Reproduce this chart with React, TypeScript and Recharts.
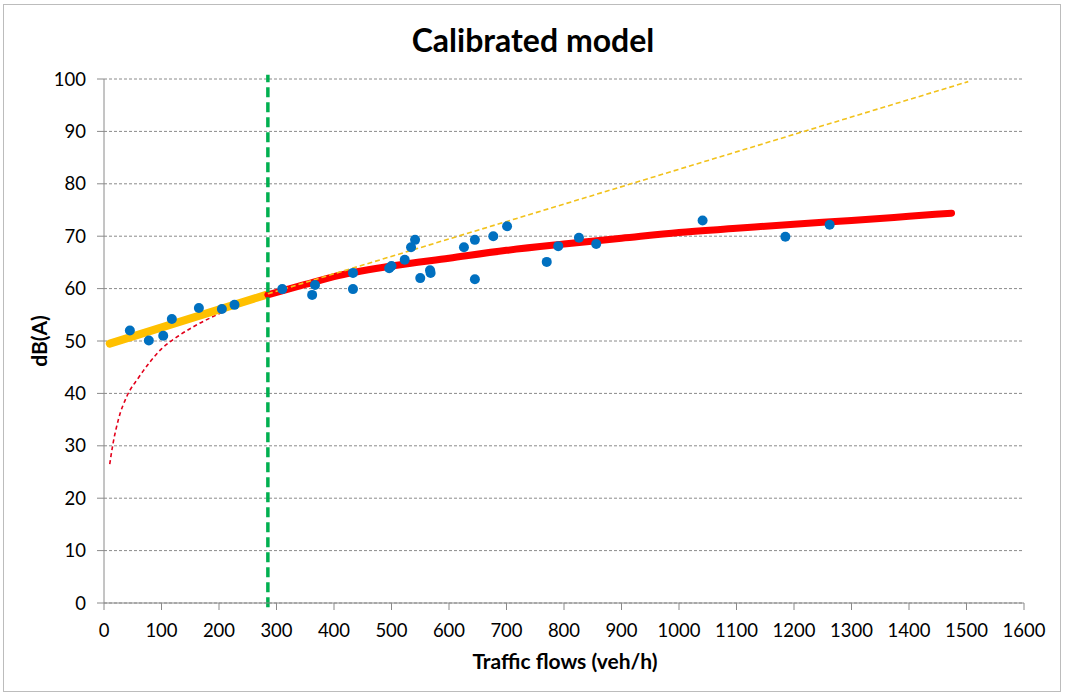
import React from 'react';
import { ComposedChart, Line, Scatter, XAxis, YAxis, CartesianGrid, ReferenceLine } from 'recharts';

// measured traffic flow (veh/h) vs noise level dB(A)
const obsFlow = [45, 78, 103, 118, 165, 205, 227, 310, 362, 367, 433, 433, 496, 500, 523, 534, 541, 550, 567, 568, 626, 645, 645, 677, 701, 770, 790, 826, 856, 1041, 1185, 1262];
const obsLevel = [52.0, 50.1, 51.0, 54.2, 56.3, 56.1, 56.9, 59.9, 58.8, 60.7, 63.0, 59.9, 63.9, 64.3, 65.5, 67.9, 69.3, 62.0, 63.5, 63.0, 67.9, 69.3, 61.8, 70.0, 71.9, 65.1, 68.1, 69.7, 68.5, 73.0, 69.9, 72.2];

// linear model, low-flow branch (thick) and its extension (thin dashed)
const linFlow = [10, 282];
const linLevel = [49.5, 58.8];
const linExtFlow = [285, 1503];
const linExtLevel = [59.0, 99.5];

// logarithmic model, calibrated part (thick) and its extension below the threshold (dashed)
const logFlow = [285, 350, 400, 500, 600, 700, 800, 900, 1000, 1100, 1200, 1300, 1400, 1474];
const logLevel = [58.8, 60.8, 62.3, 64.3, 65.8, 67.3, 68.5, 69.6, 70.7, 71.5, 72.3, 73.0, 73.8, 74.4];
const logLowFlow = [10, 15, 25, 40, 60, 80, 100, 130, 160, 200, 240, 285];
const logLowLevel = [26.5, 30.0, 35.0, 39.5, 43.0, 46.0, 48.5, 51.0, 53.0, 55.2, 57.2, 58.8];

const threshold = 285;
const xTicks = [0, 100, 200, 300, 400, 500, 600, 700, 800, 900, 1000, 1100, 1200, 1300, 1400, 1500, 1600];
const yTicks = [0, 10, 20, 30, 40, 50, 60, 70, 80, 90, 100];

const pts = (xs: number[], ys: number[]) => xs.map((x, i) => ({ x, y: ys[i] }));

const FONT = 'Lato, "Open Sans", sans-serif';
const tick = { fontSize: 18.5, fill: '#000', fontFamily: FONT };

export default function App() {
  return (
    <div style={{ position: 'absolute', left: 0, top: 0, width: 1066, height: 696, background: '#fff', fontFamily: FONT }}>
      <div style={{ position: 'absolute', left: 3, top: 4, width: 1056, height: 686, border: '1.5px solid #bcbcbc' }} />
      <div style={{ position: 'absolute', left: 0, width: 1066, top: 20, textAlign: 'center', fontSize: 32, fontWeight: 700 }}>
        Calibrated model
      </div>
      <div style={{ position: 'absolute', left: 0, width: 1130, top: 648, textAlign: 'center', fontSize: 21, fontWeight: 700 }}>
        Traffic flows (veh/h)
      </div>
      <div style={{ position: 'absolute', left: 38, top: 341, fontSize: 21, fontWeight: 700, transform: 'translate(-50%, -50%) rotate(-90deg)', whiteSpace: 'nowrap' }}>
        dB(A)
      </div>
      <div style={{ position: 'absolute', left: 0, top: 0 }}>
        <ComposedChart width={1066} height={696} margin={{ top: 79, right: 42, bottom: 63, left: 44 }}>
          <CartesianGrid vertical={false} stroke="#8a8a8a" strokeDasharray="3 2" />
          <XAxis
            type="number"
            dataKey="x"
            domain={[0, 1600]}
            ticks={xTicks}
            interval={0}
            height={30}
            tick={tick}
            tickSize={7}
            tickMargin={14}
            stroke="#8a8a8a"
            allowDuplicatedCategory={false}
          />
          <YAxis
            type="number"
            dataKey="y"
            domain={[0, 100]}
            ticks={yTicks}
            interval={0}
            width={60}
            tick={tick}
            tickSize={7}
            tickMargin={11}
            stroke="#8a8a8a"
          />
          <Line data={pts(logLowFlow, logLowLevel)} dataKey="y" stroke="#E3001B" strokeWidth={1.6} strokeDasharray="4 3" dot={false} type="monotone" isAnimationActive={false} />
          <Line data={pts(linFlow, linLevel)} dataKey="y" stroke="#FFC000" strokeWidth={8} strokeLinecap="round" dot={false} isAnimationActive={false} />
          <Line data={pts(logFlow, logLevel)} dataKey="y" stroke="#FF0000" strokeWidth={7} strokeLinecap="round" dot={false} type="monotone" isAnimationActive={false} />
          <Line data={pts(linExtFlow, linExtLevel)} dataKey="y" stroke="#F2C21B" strokeWidth={1.6} strokeDasharray="5 3" dot={false} isAnimationActive={false} />
          <ReferenceLine
            segment={[{ x: threshold, y: -0.8 }, { x: threshold, y: 100.8 }]}
            ifOverflow="visible"
            stroke="#00B050"
            strokeWidth={3.5}
            strokeDasharray="10 5"
          />
          <Scatter data={pts(obsFlow, obsLevel)} dataKey="y" fill="#0070C0" shape={(p: any) => <circle cx={p.cx} cy={p.cy} r={5} fill="#0070C0" />} isAnimationActive={false} />
        </ComposedChart>
      </div>
    </div>
  );
}
